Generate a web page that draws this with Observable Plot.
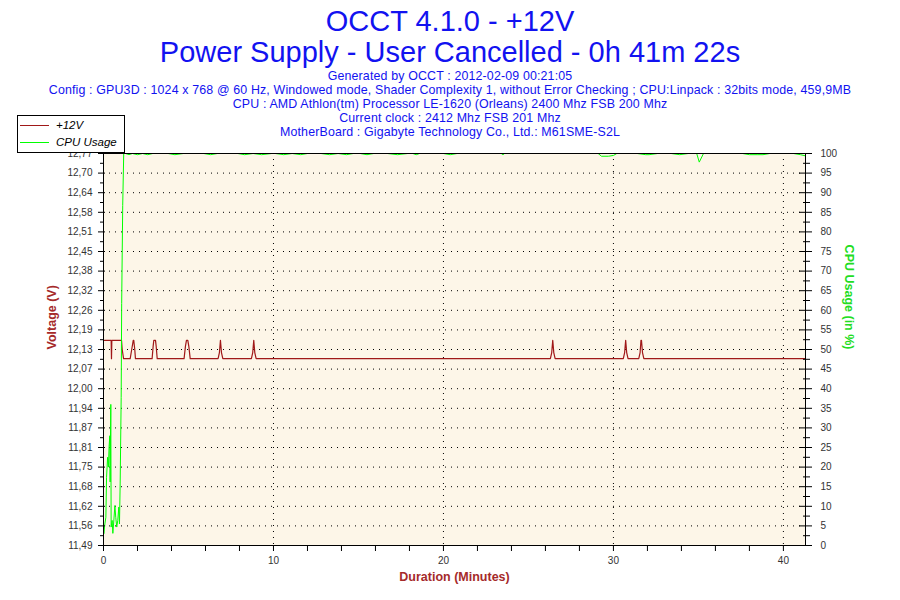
<!DOCTYPE html>
<html>
<head>
<meta charset="utf-8">
<script src="https://cdn.jsdelivr.net/npm/d3@7"></script>
<script src="https://cdn.jsdelivr.net/npm/@observablehq/plot@0.6"></script>
<style>
  html, body { margin: 0; padding: 0; background: #fff; }
  #wrap { position: relative; width: 900px; height: 600px; overflow: hidden; font-family: "Liberation Sans", Arial, sans-serif; }
  .hd { position: absolute; left: 0; width: 900px; text-align: center; color: #1212f0; white-space: nowrap; }
  .t1 { font-size: 29px; line-height: 30px; }
  .t2 { font-size: 12.4px; line-height: 13px; letter-spacing: 0.15px; }
  #legend { position: absolute; left: 17px; top: 115px; width: 106px; height: 36px; border: 1px solid #000; background: #fff; font-style: italic; font-size: 11.5px; color: #000; }
  #legend .row { position: absolute; left: 0; height: 16px; line-height: 16px; }
  #legend .sw { position: absolute; left: 2px; width: 29px; height: 1px; top: 8px; }
  #legend .lb { position: absolute; left: 38px; top: 0; white-space: nowrap; }
  #chart { position: absolute; left: 0; top: 0; }
</style>
</head>
<body>
<div id="wrap">
  <div id="chart"></div>
  <div class="hd t1" style="top:6px">OCCT 4.1.0 - +12V</div>
  <div class="hd t1" style="top:37px">Power Supply - User Cancelled - 0h 41m 22s</div>
  <div class="hd t2" style="top:70px">Generated by OCCT : 2012-02-09 00:21:05</div>
  <div class="hd t2" style="top:84px">Config : GPU3D : 1024 x 768 @ 60 Hz, Windowed mode, Shader Complexity 1, without Error Checking ; CPU:Linpack : 32bits mode, 459,9MB</div>
  <div class="hd t2" style="top:98px">CPU : AMD Athlon(tm) Processor LE-1620 (Orleans) 2400 Mhz FSB 200 Mhz</div>
  <div class="hd t2" style="top:112px">Current clock : 2412 Mhz FSB 201 Mhz</div>
  <div class="hd t2" style="top:126px">MotherBoard : Gigabyte Technology Co., Ltd.: M61SME-S2L</div>
  <div id="legend">
    <div class="row" style="top:1px;width:106px"><div class="sw" style="background:#a01818"></div><div class="lb">+12V</div></div>
    <div class="row" style="top:18px;width:106px"><div class="sw" style="background:#00ff00"></div><div class="lb">CPU Usage</div></div>
  </div>
</div>
<script>
// ---- axis ranges and tick labels ----
const voltMin = 11.49;
const voltMax = 12.77;
const durationMax = 41.3;
const voltTickLabels = ["11,49","11,56","11,62","11,68","11,75","11,81","11,87","11,94","12,00","12,07","12,13","12,19","12,26","12,32","12,38","12,45","12,51","12,58","12,64","12,70","12,77"];
const cpuTickLabels = [0,5,10,15,20,25,30,35,40,45,50,55,60,65,70,75,80,85,90,95,100];
const durationTicks = [0,10,20,30,40];
const durationMinorTicks = [0,2,4,6,8,10,12,14,16,18,20,22,24,26,28,30,32,34,36,38,40];

// ---- +12V series (minutes, volts) ----
const voltTime = [0, 0.45, 0.47, 0.49, 1.06, 1.10, 1.18,
  1.57, 1.66, 1.75, 1.78, 1.84, 1.88,
  2.86, 2.92, 2.96, 3.06, 3.10, 3.16,
  4.74, 4.82, 4.88, 4.96, 5.02, 5.10,
  6.74, 6.82, 6.88, 6.94, 7.02,
  8.70, 8.78, 8.84, 8.90, 8.98,
  26.29, 26.37, 26.43, 26.49, 26.57,
  30.58, 30.66, 30.72, 30.78, 30.86,
  31.49, 31.57, 31.62, 31.65, 31.71, 31.79,
  41.30];
const voltValue = [12.16, 12.16, 12.10, 12.16, 12.16, 12.13, 12.10,
  12.10, 12.13, 12.16, 12.16, 12.13, 12.10,
  12.10, 12.14, 12.16, 12.16, 12.14, 12.10,
  12.10, 12.14, 12.16, 12.16, 12.14, 12.10,
  12.10, 12.12, 12.16, 12.12, 12.10,
  12.10, 12.12, 12.16, 12.12, 12.10,
  12.10, 12.12, 12.16, 12.12, 12.10,
  12.10, 12.12, 12.16, 12.12, 12.10,
  12.10, 12.12, 12.16, 12.16, 12.12, 12.10,
  12.10];

// ---- CPU Usage series (minutes, %) ----
const cpuTime = [0, 0.02, 0.08, 0.14, 0.18, 0.24, 0.29, 0.33, 0.37, 0.39, 0.43, 0.45, 0.51, 0.55, 0.61, 0.67, 0.72, 0.78, 0.84, 0.90, 0.94, 0.98, 1.04, 1.07, 1.13, 1.19,
  1.3, 1.5, 1.7, 2.0, 2.3, 2.6, 2.9, 3.8, 4.2, 4.7, 5.9, 6.3, 6.7, 7.9, 8.3, 8.8, 9.3, 9.9,
  10.1, 10.6, 11.1, 11.6, 12.0, 12.8, 13.3, 13.8, 14.3, 14.7, 15.1, 15.5, 15.9, 16.7, 17.3, 17.9,
  18.2, 18.4, 18.6, 20.0, 20.4, 20.8, 23.4, 23.5, 23.6, 29.1, 29.3, 29.7, 30.0, 30.2,
  31.4, 31.9, 32.1, 32.6, 33.4, 33.9, 34.4, 34.9, 35.05, 35.3, 37.6, 38.0, 38.5, 38.8, 39.2, 40.6, 41.0, 41.3];
const cpuValue = [5.0, 3.0, 5.5, 7.2, 17.4, 22.5, 20.0, 25.3, 28.0, 16.2, 36.0, 4.7, 6.4, 3.1, 6.5, 10.2, 7.2, 4.7, 6.4, 9.8, 5.5, 15.7, 37.8, 61.7, 86.7, 100,
  100, 99.7, 100, 99.7, 100, 99.7, 100, 100, 99.7, 100, 100, 99.7, 100, 100, 99.7, 100, 99.7, 100,
  100, 99.7, 100, 99.7, 100, 100, 99.7, 100, 99.7, 100, 100, 99.7, 100, 100, 99.7, 100,
  100, 99.7, 100, 100, 99.7, 100, 100, 99.7, 100, 100, 99.3, 99.3, 99.5, 100,
  100, 99.7, 99.7, 100, 100, 99.7, 100, 100, 97.8, 100, 100, 99.7, 99.7, 99.7, 100, 100, 99.7, 99.4];

// ---- build tables ----
const voltData = voltTime.map((t, i) => ({t, v: voltValue[i]}));
const cpuData = cpuTime.map((t, i) => ({t, c: cpuValue[i]}));
const span = voltMax - voltMin;
const cpuToY = c => voltMin + c / 100 * span;
const tickPos = voltTickLabels.map((_, i) => voltMin + i * span / (voltTickLabels.length - 1));
const minorPos = tickPos.slice(1).map((p, i) => (p + tickPos[i]) / 2);
const gridPos = tickPos.slice(1, -1);
const voltLabelMap = new Map(tickPos.map((p, i) => [p, voltTickLabels[i]]));
const cpuLabelMap = new Map(tickPos.map((p, i) => [p, String(cpuTickLabels[i])]));

const red = "#a01818";
const green = "#00ff00";

const chart = Plot.plot({
  width: 900,
  height: 600,
  marginTop: 153,
  marginBottom: 55,
  marginLeft: 103,
  marginRight: 95,
  x: {domain: [0, durationMax]},
  y: {domain: [voltMin, voltMax]},
  style: {fontFamily: "Liberation Sans, Arial, sans-serif", fontSize: "10px", color: "#333", background: "transparent", overflow: "visible"},
  marks: [
    Plot.frame({fill: "#fdf6e8", stroke: "none"}),
    Plot.ruleY(gridPos, {stroke: "#000", strokeDasharray: "1 5"}),
    Plot.ruleX([10, 20, 30, 40], {stroke: "#000", strokeDasharray: "1 5"}),
    Plot.line(voltData, {x: "t", y: "v", stroke: red, strokeWidth: 1.2}),
    Plot.line(cpuData, {x: "t", y: d => cpuToY(d.c), stroke: green, strokeWidth: 1}),
    Plot.frame({stroke: "#000"}),
    // left axis ticks
    Plot.axisY(tickPos, {anchor: "left", tickSize: 7, dx: 2, fill: "none", stroke: "#000", label: null}),
    Plot.axisY(minorPos, {anchor: "left", tickSize: 4, dx: 1, fill: "none", stroke: "#000", label: null}),
    Plot.axisY(tickPos, {anchor: "left", tickSize: 0, tickPadding: 11, tickFormat: d => voltLabelMap.get(d), fill: "#333", label: null}),
    // right axis ticks
    Plot.axisY(tickPos, {anchor: "right", tickSize: 13, dx: -7, fill: "none", stroke: "#000", label: null}),
    Plot.axisY(minorPos, {anchor: "right", tickSize: 7, dx: -3, fill: "none", stroke: "#000", label: null}),
    Plot.axisY(tickPos, {anchor: "right", tickSize: 0, tickPadding: 15, tickFormat: d => cpuLabelMap.get(d), fill: "#333", label: null}),
    // bottom axis
    Plot.axisX(durationMinorTicks, {anchor: "bottom", tickSize: 6, fill: "none", stroke: "#000", label: null}),
    Plot.axisX(durationTicks, {anchor: "bottom", tickSize: 0, tickPadding: 11, tickFormat: d => String(d), fill: "#333", label: null}),
    // axis titles
    Plot.text(["Voltage (V)"], {frameAnchor: "left", dx: -52, rotate: -90, fill: "#a52a2a", fontWeight: "bold", fontSize: 12.5}),
    Plot.text(["CPU Usage (in %)"], {frameAnchor: "right", dx: 43, rotate: 90, fill: "#22dd22", fontWeight: "bold", fontSize: 12.5}),
    Plot.text(["Duration (Minutes)"], {frameAnchor: "bottom", dy: 35, fill: "#a52a2a", fontWeight: "bold", fontSize: 12.5})
  ]
});
document.getElementById("chart").appendChild(chart);
</script>
</body>
</html>
